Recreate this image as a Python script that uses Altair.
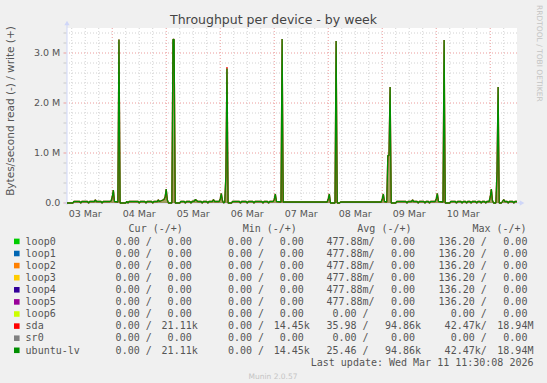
import altair as alt
import pandas as pd

# ---------------- data (hours since 03 Mar 00:00, write in MB/s) ----------------
hours = [
    3.9, 6.5, 7.0, 9.5, 10.0, 10.5, 13.0, 13.5, 14.0, 16.0, 16.5, 17.0, 19.0, 19.5, 20.0, 22.5, 23.0, 23.5,
    24.0, 24.5, 25.0, 26.5, 27.0, 27.5, 30.0, 30.5, 31.0, 31.5, 35.5, 36.0, 36.5, 38.5, 39.0, 39.5, 41.5, 42.0,
    42.5, 44.0, 44.5, 45.0, 46.0, 47.0, 47.5, 48.0, 48.5, 49.0, 50.5, 51.0, 51.5, 52.0, 54.0, 54.5,
    56.0, 56.5, 57.0, 58.5, 59.0, 59.5, 60.5, 61.0, 61.5, 62.0, 63.5, 64.0, 64.5, 66.0, 66.5, 67.0, 68.5, 69.0,
    69.5, 71.5, 72.0, 72.5, 73.0, 73.5, 74.0, 74.5, 75.0, 75.5, 77.0, 77.5,
    80.5, 81.0, 81.5, 83.5, 84.0, 84.5, 86.5, 87.0, 87.5, 90.5, 91.0, 91.5, 93.0, 93.5, 94.0, 95.5, 96.0, 96.5,
    97.0, 99.0, 99.5, 100.0,
    119.5, 120.0, 120.5, 121.0, 123.0, 123.5, 124.0, 125.0, 125.5,
    143.5, 144.0, 144.5, 145.0, 146.0, 146.5, 147.0, 147.5, 148.0, 150.0, 150.5,
    154.5, 155.0, 155.5, 157.0, 157.5, 158.0, 159.5, 160.0, 160.5, 162.5, 163.0, 163.5, 164.5, 165.0, 165.5,
    167.5, 168.0, 168.5, 169.0, 171.0, 171.5, 172.0, 174.0, 174.5,
    176.5, 177.0, 177.5, 179.0, 179.5, 180.0, 181.0, 181.5, 182.0, 183.0, 183.5, 184.0, 185.5, 186.0, 186.5,
    187.5, 188.0, 188.5, 189.5, 190.0, 190.5, 191.5, 192.0, 192.5, 193.0, 193.5, 194.5, 195.0, 195.5, 196.0,
    197.0, 198.0, 198.5, 199.5, 200.0, 200.5, 202.0, 202.5, 203.0, 203.9,
]
lv_write_M = [
    0.0, 0.0, 0.03, 0.03, 0.0, 0.03, 0.03, 0.0, 0.03, 0.03, 0.06, 0.03, 0.03, 0.0, 0.03, 0.03, 0.03, 0.04,
    0.12, 0.26, 0.03, 0.02, 3.27, 0.0, 0.0, 0.03, 0.0, 0.03, 0.03, 0.0, 0.03, 0.03, 0.0, 0.03, 0.03, 0.0,
    0.03, 0.03, 0.06, 0.03, 0.05, 0.07, 0.12, 0.28, 0.06, 0.0, 0.0, 3.27, 3.27, 0.0, 0.0, 0.03,
    0.03, 0.0, 0.03, 0.03, 0.0, 0.03, 0.04, 0.07, 0.05, 0.03, 0.03, 0.0, 0.03, 0.03, 0.0, 0.03, 0.03, 0.07,
    0.03, 0.03, 0.08, 0.19, 0.05, 0.0, 0.02, 0.53, 2.69, 0.0, 0.0, 0.03,
    0.03, 0.0, 0.03, 0.03, 0.0, 0.03, 0.03, 0.0, 0.03, 0.03, 0.0, 0.03, 0.03, 0.0, 0.03, 0.03, 0.07, 0.18,
    0.03, 0.02, 3.28, 0.02,
    0.02, 0.08, 0.18, 0.0, 0.0, 3.24, 0.0, 0.0, 0.02,
    0.02, 0.08, 0.18, 0.03, 0.02, 0.95, 0.95, 2.32, 0.0, 0.0, 0.03,
    0.03, 0.0, 0.03, 0.03, 0.06, 0.03, 0.03, 0.0, 0.03, 0.03, 0.0, 0.03, 0.03, 0.0, 0.03,
    0.03, 0.08, 0.19, 0.03, 0.02, 3.26, 0.0, 0.0, 0.03,
    0.03, 0.0, 0.03, 0.03, 0.0, 0.03, 0.03, 0.0, 0.03, 0.03, 0.0, 0.03, 0.03, 0.0, 0.03,
    0.03, 0.0, 0.03, 0.03, 0.0, 0.03, 0.03, 0.12, 0.28, 0.05, 0.0, 0.0, 0.6, 2.32, 0.0,
    0.0, 0.07, 0.03, 0.03, 0.0, 0.03, 0.03, 0.0, 0.03, 0.03,
]
sda_diff_hours = [75.0]
sda_diff_write_M = [2.72]

x_domain = [3.9, 203.9]
y_domain = [0.0, 3.5]

day_labels = ["03 Mar", "04 Mar", "05 Mar", "06 Mar", "07 Mar", "08 Mar", "09 Mar", "10 Mar"]
day_label_hours = [12, 36, 60, 84, 108, 132, 156, 180]
day_grid_hours = [24, 48, 72, 96, 120, 144, 168, 192]
minor_grid_hours = [6, 12, 18, 30, 36, 42, 54, 60, 66, 78, 84, 90, 102, 108, 114,
                    126, 132, 138, 150, 156, 162, 174, 180, 186, 198]
major_grid_M = [1.0, 2.0, 3.0]
minor_grid_M = [0.2, 0.4, 0.6, 0.8, 1.2, 1.4, 1.6, 1.8, 2.2, 2.4, 2.6, 2.8, 3.2, 3.4]
y_label_M = [0.0, 1.0, 2.0, 3.0]
y_label_text = ["0.0", "1.0 M", "2.0 M", "3.0 M"]

legend_names = ["loop0", "loop1", "loop2", "loop3", "loop4", "loop5", "loop6", "sda", "sr0", "ubuntu-lv"]
legend_colors = ["#00CC00", "#0066B3", "#FF8000", "#FFCC00", "#330099", "#990099", "#CCFF00",
                 "#FF0000", "#808080", "#008F00"]
cur_read = ["0.00", "0.00", "0.00", "0.00", "0.00", "0.00", "0.00", "0.00", "0.00", "0.00"]
cur_write = ["0.00", "0.00", "0.00", "0.00", "0.00", "0.00", "0.00", "21.11k", "0.00", "21.11k"]
min_read = ["0.00", "0.00", "0.00", "0.00", "0.00", "0.00", "0.00", "0.00", "0.00", "0.00"]
min_write = ["0.00", "0.00", "0.00", "0.00", "0.00", "0.00", "0.00", "14.45k", "0.00", "14.45k"]
avg_read = ["477.88m", "477.88m", "477.88m", "477.88m", "477.88m", "477.88m", "0.00", "35.98", "0.00", "25.46"]
avg_write = ["0.00", "0.00", "0.00", "0.00", "0.00", "0.00", "0.00", "94.86k", "0.00", "94.86k"]
max_read = ["136.20", "136.20", "136.20", "136.20", "136.20", "136.20", "0.00", "42.47k", "0.00", "42.47k"]
max_write = ["0.00", "0.00", "0.00", "0.00", "0.00", "0.00", "0.00", "18.94M", "0.00", "18.94M"]
headers = ["Cur (-/+)", "Min (-/+)", "Avg (-/+)", "Max (-/+)"]
last_update = "Last update: Wed Mar 11 11:30:08 2026"

# ---------------- layout constants ----------------
PL, PT = 67, 28          # plot origin in page pixels
W, H = 450, 175
NB = "\u00a0"
CH = 6.02                # advance of DejaVu Sans Mono at 10px
GREY_TXT = "#555555"
AXIS_C = "#CFD6F8"
MONO = "DejaVu Sans Mono"
SANS = "DejaVu Sans"

# ---------------- tables ----------------
sda_write_M = list(lv_write_M)
for hh, vv in zip(sda_diff_hours, sda_diff_write_M):
    sda_write_M[hours.index(hh)] = vv
series = pd.DataFrame({"h": hours, "lv": lv_write_M, "sda": sda_write_M})

xs = alt.Scale(domain=x_domain, nice=False, zero=False)
ys = alt.Scale(domain=y_domain, nice=False, zero=False)


def X(field):
    return alt.X(field, scale=xs, axis=None)


def Y(field):
    return alt.Y(field, scale=ys, axis=None)


def cell(s, width, slash, x0):
    if s[-1].isalpha():
        num, unit = s[:-1], s[-1]
    else:
        num, unit = s, NB
    pad = max(0, width - len(num))
    text = num + unit + ("/" if slash else "")
    return text, x0 + pad * CH


cols = [
    (cur_read, 109.6, 5, True), (cur_write, 161.6, 5, False),
    (min_read, 221.9, 5, True), (min_write, 273.7, 5, False),
    (avg_read, 326.4, 5, True), (avg_write, 385.0, 5, False),
    (max_read, 438.6, 6, True), (max_write, 497.3, 5, False),
]
ROW0, ROWSTEP = 244.6, 12.1
rows = []
for i, name in enumerate(legend_names):
    y = ROW0 + ROWSTEP * i - PT
    rows.append({"t": name, "x": 25.6 - PL, "y": y})
    for arr, cx, w, sl in cols:
        t, xx = cell(arr[i], w, sl, cx)
        rows.append({"t": t, "x": xx - PL, "y": y})
for t, hx in zip(headers, [128.6, 242.7, 357.3, 472.4]):
    rows.append({"t": t.replace(" ", NB), "x": hx - PL, "y": 231.6 - PT})
legend_df = pd.DataFrame(rows)

squares_df = pd.DataFrame({
    "x": [16.8 - PL] * len(legend_names),
    "y": [ROW0 - 3.2 + ROWSTEP * i - PT for i in range(len(legend_names))],
    "c": legend_colors,
})

# ---------------- layers ----------------
def vrules(vals, color):
    return alt.Chart(pd.DataFrame({"h": vals})).mark_rule(
        color=color, strokeDash=[1, 2], strokeWidth=1
    ).encode(x=X("h:Q"))


def hrules(vals, color):
    return alt.Chart(pd.DataFrame({"v": vals})).mark_rule(
        color=color, strokeDash=[1, 2], strokeWidth=1
    ).encode(y=Y("v:Q"))


grid = [
    vrules(minor_grid_hours, "#d2d2d2"),
    hrules(minor_grid_M, "#d2d2d2"),
    vrules(day_grid_hours, "#eb9c9c"),
    hrules(major_grid_M, "#eb9c9c"),
]

# y axis ticks (short marks left of the axis)
minor_ticks = alt.Chart(pd.DataFrame({"v": minor_grid_M})).mark_rule(
    color="#c8c8c8", strokeWidth=1
).encode(y=Y("v:Q"), x=alt.value(-3.5), x2=alt.value(-0.5))
major_ticks = alt.Chart(pd.DataFrame({"v": y_label_M})).mark_rule(
    color="#eb9c9c", strokeWidth=1
).encode(y=Y("v:Q"), x=alt.value(-3.5), x2=alt.value(-0.5))

ylabels = alt.Chart(pd.DataFrame({"v": y_label_M, "t": y_label_text})).mark_text(
    font=SANS, fontSize=9.5, color=GREY_TXT, align="right", baseline="middle"
).encode(y=Y("v:Q"), x=alt.value(60.3 - PL), text="t:N")

xlabels = alt.Chart(pd.DataFrame({"h": day_label_hours, "t": day_labels})).mark_text(
    font=SANS, fontSize=9.5, color=GREY_TXT, baseline="alphabetic", align="center"
).encode(x=X("h:Q"), y=alt.value(216.8 - PT), text="t:N")

area = alt.Chart(series).mark_area(color="#8a8838", opacity=0.8, interpolate="linear").encode(
    x=X("h:Q"), y=Y("lv:Q")
)
line_sda = alt.Chart(series).mark_line(color="#FF0000", strokeWidth=1.3, strokeJoin="bevel").encode(
    x=X("h:Q"), y=Y("sda:Q")
)
line_lv = alt.Chart(series).mark_line(color="#008F00", strokeWidth=1.3, strokeJoin="bevel").encode(
    x=X("h:Q"), y=Y("lv:Q")
)

# axis lines with arrows
left_axis = alt.Chart(pd.DataFrame({"h": [x_domain[0]]})).mark_rule(color=AXIS_C, strokeWidth=1).encode(
    x=X("h:Q"), y=alt.value(-4), y2=alt.value(H + 2)
)
bottom_axis = alt.Chart(pd.DataFrame({"v": [y_domain[0]]})).mark_rule(color=AXIS_C, strokeWidth=1).encode(
    y=Y("v:Q"), x=alt.value(-3), x2=alt.value(W + 4)
)
arrow_right = alt.Chart(pd.DataFrame({"h": [x_domain[1]], "v": [y_domain[0]]})).mark_point(
    shape="triangle-right", filled=True, size=28, color=AXIS_C, opacity=1, xOffset=5
).encode(x=X("h:Q"), y=Y("v:Q"))
arrow_up = alt.Chart(pd.DataFrame({"h": [x_domain[0]], "v": [y_domain[1]]})).mark_point(
    shape="triangle-up", filled=True, size=28, color=AXIS_C, opacity=1, yOffset=-5
).encode(x=X("h:Q"), y=Y("v:Q"))

legend_text = alt.Chart(legend_df).mark_text(
    font=MONO, fontSize=10, color=GREY_TXT, align="left", baseline="alphabetic"
).encode(
    x=alt.X("x:Q", scale=None, axis=None),
    y=alt.Y("y:Q", scale=None, axis=None),
    text="t:N",
)
legend_sq = alt.Chart(squares_df).mark_square(size=31, opacity=1).encode(
    x=alt.X("x:Q", scale=None, axis=None),
    y=alt.Y("y:Q", scale=None, axis=None),
    color=alt.Color("c:N", scale=None),
)


def label(text, x, y, **kw):
    return alt.Chart(pd.DataFrame({"t": [text]})).mark_text(**kw).encode(
        x=alt.value(x - PL), y=alt.value(y - PT), text="t:N"
    )


title = label("Throughput per device - by week", 273.5, 23.5, font=SANS, fontSize=12.5,
              color="#444444", align="center", baseline="alphabetic")
ytitle = label("Bytes/second read (-) / write (+)", 10.5, 111, font=SANS, fontSize=10.5,
               color=GREY_TXT, align="center", baseline="middle", angle=270)
rrd = label("RRDTOOL / TOBI OETIKER", 539, 5, font=SANS, fontSize=7.5, color="#c4c4c4",
            align="left", baseline="middle", angle=90)
munin = label("Munin 2.0.57", 273, 378.5, font=SANS, fontSize=7.5, color="#c4c4c4",
              align="center", baseline="alphabetic")
upd = label(last_update, 533.5, 366.4, font=MONO, fontSize=10, color=GREY_TXT,
            align="right", baseline="alphabetic")

chart = alt.layer(
    *grid, minor_ticks, major_ticks, left_axis, bottom_axis,
    area, line_sda, line_lv, arrow_right, arrow_up, ylabels, xlabels,
    legend_sq, legend_text, title, ytitle, rrd, munin, upd,
).properties(
    width=W, height=H,
    autosize=alt.AutoSizeParams(type="none"),
    padding={"left": PL, "top": PT, "right": 547 - PL - W, "bottom": 383 - PT - H},
    background="#F0F0F0",
).configure_view(fill="#FFFFFF", stroke=None)

chart.save("out.html", embed_options={"renderer": "svg", "actions": False})
